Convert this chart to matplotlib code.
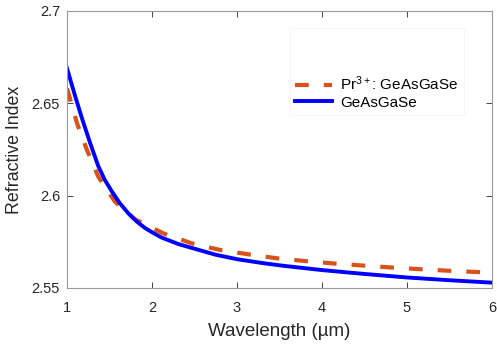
import matplotlib.pyplot as plt

plt.rcParams['font.family'] = ['Liberation Sans', 'DejaVu Sans']
plt.rcParams['mathtext.fontset'] = 'custom'
plt.rcParams['mathtext.rm'] = 'Liberation Sans'
plt.rcParams['mathtext.it'] = 'Liberation Sans'
plt.rcParams['mathtext.bf'] = 'Liberation Sans:bold'

# refractive index vs wavelength (um)
wl_pr = [1.0, 1.118, 1.235, 1.368, 1.565, 1.8, 2.133, 2.467, 2.8, 3.14,
         3.47, 3.8, 4.16, 4.5, 4.85, 5.19, 5.55, 6.0]
n_pr = [2.6581, 2.6392, 2.6247, 2.6103, 2.5967, 2.5872, 2.5796, 2.5742,
        2.5706, 2.5682, 2.5661, 2.5646, 2.5632, 2.5621, 2.5610, 2.5601,
        2.5592, 2.5583]

wl_base = [1.0, 1.09, 1.176, 1.27, 1.368, 1.445, 1.525, 1.62, 1.72, 1.82,
           1.918, 2.0, 2.114, 2.31, 2.506, 2.75, 3.0, 3.3, 3.55, 4.0, 4.5,
           5.0, 5.5, 6.0]
n_base = [2.6690, 2.6548, 2.6419, 2.6288, 2.6160, 2.6085, 2.6025, 2.5960,
          2.5905, 2.5860, 2.5825, 2.5802, 2.5773, 2.5738, 2.5712, 2.5680,
          2.5656, 2.5635, 2.5620, 2.5597, 2.5576, 2.5557, 2.5542, 2.5529]

fig = plt.figure(figsize=(4.97, 3.45), dpi=100)
ax = fig.add_axes([67/497, 1-288/345, 425/497, 277/345])

ax.plot(wl_pr, n_pr, '--', color='#D95319', lw=3, dashes=(3.3, 3.6),
        label=r'Pr$^{3+}$: GeAsGaSe')
ax.plot(wl_base, n_base, '-', color='#0000FF', lw=2.8, label='GeAsGaSe')

ax.set_xlim(1, 6)
ax.set_ylim(2.55, 2.7)
ax.set_xticks([1, 2, 3, 4, 5, 6])
ax.set_yticks([2.55, 2.6, 2.65, 2.7])
ax.set_yticklabels(['2.55', '2.6', '2.65', '2.7'])
ax.tick_params(direction='in', top=True, right=True, labelsize=10.5,
               colors='#262626', length=4, width=0.6, pad=5)
ax.tick_params(axis='x', pad=9)
for s in ax.spines.values():
    s.set_color('#999999')
    s.set_linewidth(0.8)

ax.set_xlabel('Wavelength (µm)', fontsize=13.5, color='#262626', labelpad=6)
ax.set_ylabel('Refractive Index', fontsize=12.8, color='#262626', labelpad=6)

leg = ax.legend(loc='lower left', bbox_to_anchor=(0.525, 0.6245),
                fontsize=11, frameon=True, fancybox=False, edgecolor='#f2f2f2',
                handlelength=2.4, borderpad=0.35, title='\n\n', title_fontsize=9,
                labelspacing=0.15, handletextpad=0.5, borderaxespad=0)
leg.get_frame().set_linewidth(0.6)

fig.savefig('out.png', dpi=100)
